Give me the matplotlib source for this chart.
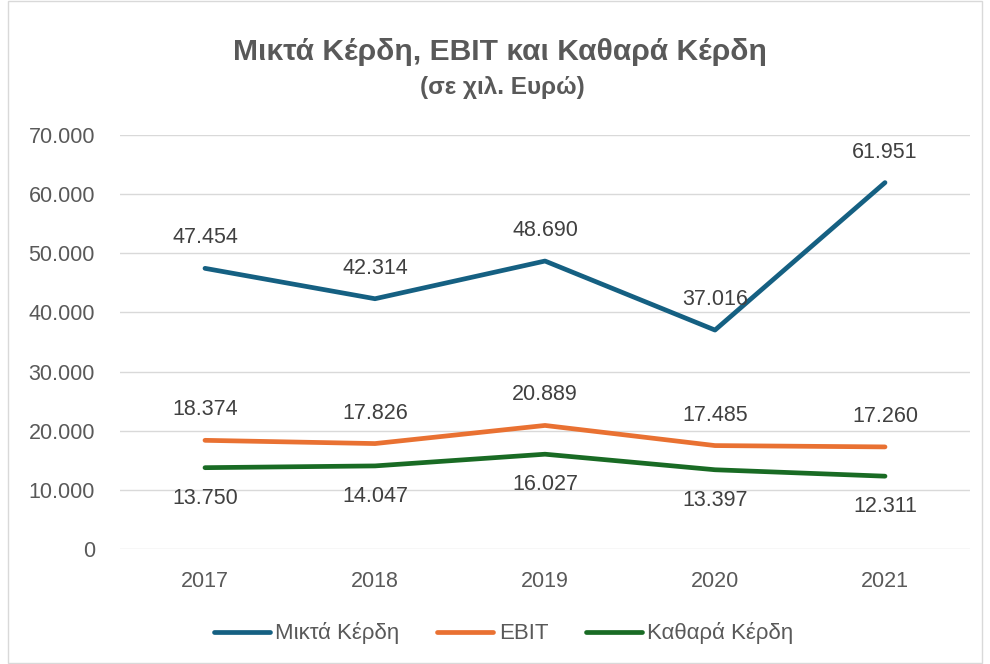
import matplotlib.pyplot as plt
import matplotlib.patches as mpatches
from matplotlib.ticker import FuncFormatter

plt.rcParams['font.family'] = ['Liberation Sans', 'DejaVu Sans']

# data
years = ['2017', '2018', '2019', '2020', '2021']
mikta = [47454, 42314, 48690, 37016, 61951]
ebit = [18374, 17826, 20889, 17485, 17260]
kathara = [13750, 14047, 16027, 13397, 12311]

series = [
    ('Μικτά Κέρδη', mikta, '#156082', 'above'),
    ('EBIT', ebit, '#E97132', 'above'),
    ('Καθαρά Κέρδη', kathara, '#196B24', 'below'),
]


def gr(v):
    return f'{v:,.0f}'.replace(',', '.')


fig = plt.figure(figsize=(9.9, 6.64), dpi=100)
ax = fig.add_axes([0.1212, 0.1732, 0.8586, 0.6235])

x = range(len(years))
for name, vals, col, pos in series:
    ax.plot(x, vals, color=col, linewidth=3.4, solid_capstyle='round', label=name)
    for xi, v in zip(x, vals):
        off = 22 if pos == 'above' else -22
        ax.annotate(gr(v), (xi, v), xytext=(0, off), textcoords='offset points',
                    ha='center', va='center', fontsize=15.5, color='#404040')

ax.set_xlim(-0.5, 4.5)
ax.set_ylim(0, 70000)
ax.set_yticks(range(0, 70001, 10000))
ax.yaxis.set_major_formatter(FuncFormatter(lambda v, p: gr(v)))
ax.set_xticks(list(x))
ax.set_xticklabels(years)
ax.grid(axis='y', color='#D9D9D9', linewidth=1)
ax.set_axisbelow(True)
for s in ax.spines.values():
    s.set_visible(False)
ax.tick_params(axis='both', length=0, labelsize=15.5, colors='#595959')
ax.tick_params(axis='y', pad=18)
ax.tick_params(axis='x', pad=16)

fig.text(0.505, 0.922, 'Μικτά Κέρδη, EBIT και Καθαρά Κέρδη', ha='center', va='center',
         fontsize=21.6, fontweight='bold', color='#595959')
fig.text(0.507, 0.868, '(σε χιλ. Ευρώ)', ha='center', va='center',
         fontsize=17.5, fontweight='bold', color='#595959')

leg = fig.legend(loc='center', bbox_to_anchor=(0.509, 0.046), ncol=3, frameon=False,
                 fontsize=16, handlelength=2.5, columnspacing=1.7, handletextpad=0.26)
for t in leg.get_texts():
    t.set_color('#595959')

fig.patches.append(mpatches.Rectangle((0.008, 0.002), 0.984, 0.996, transform=fig.transFigure,
                                      fill=False, edgecolor='#D9D9D9', linewidth=1))

fig.savefig('out.png', dpi=100)
